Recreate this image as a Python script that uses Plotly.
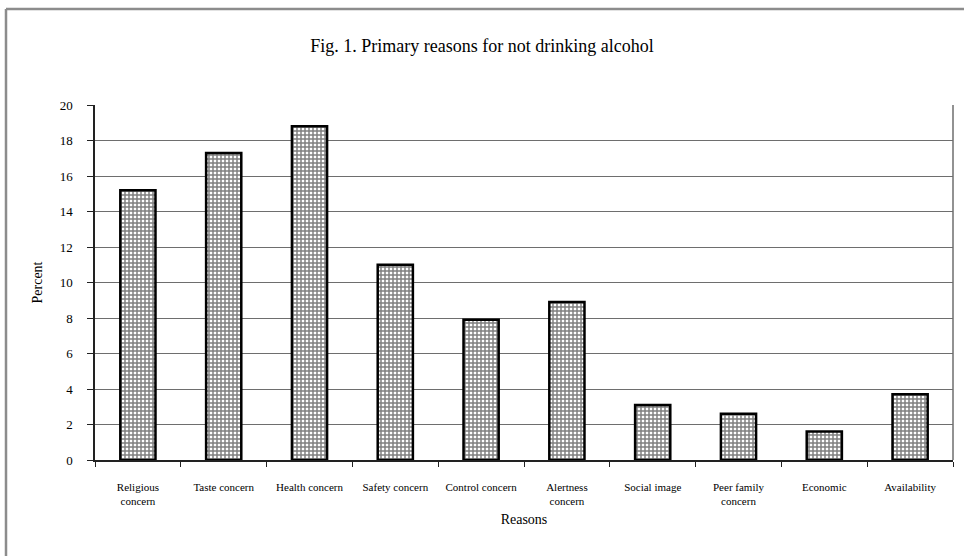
import plotly.graph_objects as go

categories = ["Religious<br>concern", "Taste concern", "Health concern", "Safety concern",
              "Control concern", "Alertness<br>concern", "Social image",
              "Peer family<br>concern", "Economic", "Availability"]
percent = [15.2, 17.3, 18.8, 11.0, 7.9, 8.9, 3.1, 2.6, 1.6, 3.7]
y_ticks = [0, 2, 4, 6, 8, 10, 12, 14, 16, 18, 20]

W, H = 964, 556
L, R, T, B = 95, 11, 105, 96

fig = go.Figure()
fig.add_trace(go.Bar(
    x=categories, y=percent,
    marker=dict(color="white", line=dict(color="black", width=2.5),
                pattern=dict(shape="+", fgcolor="black", bgcolor="white",
                             size=4, solidity=0.6, fillmode="overlay")),
    width=0.41,
))

font = "Liberation Serif, Times New Roman, serif"
fig.update_layout(
    width=W, height=H,
    margin=dict(l=L, r=R, t=T, b=B),
    paper_bgcolor="white", plot_bgcolor="white",
    font=dict(family=font, color="black", size=11),
    title=dict(text="Fig. 1. Primary reasons for not drinking alcohol",
               x=0.5, xref="container", xanchor="center",
               y=1 - 46 / H, yref="container", yanchor="middle",
               font=dict(size=18, family=font)),
    showlegend=False,
    bargap=0.59,
)
fig.update_yaxes(
    range=[0, 20], tickvals=y_ticks, showgrid=True, gridcolor="#6e6e6e", gridwidth=1.2,
    showline=True, linecolor="#222", linewidth=1.5, ticks="outside", ticklen=6,
    tickcolor="#222", ticklabelstandoff=12, zeroline=False,
    title=dict(text="Percent", font=dict(size=14), standoff=14),
    tickfont=dict(size=13),
)
fig.update_xaxes(
    showline=True, linecolor="#222", linewidth=1.5, ticks="outside", ticklen=5,
    tickson="boundaries", tickcolor="#222", ticklabelstandoff=16,
    mirror=False, title=dict(text="Reasons", font=dict(size=14), standoff=8),
    tickfont=dict(size=11), tickangle=0,
)
# right border of plot area
fig.add_shape(type="line", xref="paper", yref="paper", x0=1, x1=1, y0=0, y1=1,
              line=dict(color="#6e6e6e", width=1.5))
# outer frame (top and left lines)
pw = W - L - R
ph = H - T - B
fx0 = (6 - L) / pw
fy0 = (H - 9 - B) / ph
fig.add_shape(type="line", xref="paper", yref="paper", x0=fx0, x1=(W - L) / pw,
              y0=fy0, y1=fy0, line=dict(color="#8c8c8c", width=2.5))
fig.add_shape(type="line", xref="paper", yref="paper", x0=fx0, x1=fx0,
              y0=fy0, y1=-B / ph, line=dict(color="#8c8c8c", width=2.5))

fig.write_html("out.html")
